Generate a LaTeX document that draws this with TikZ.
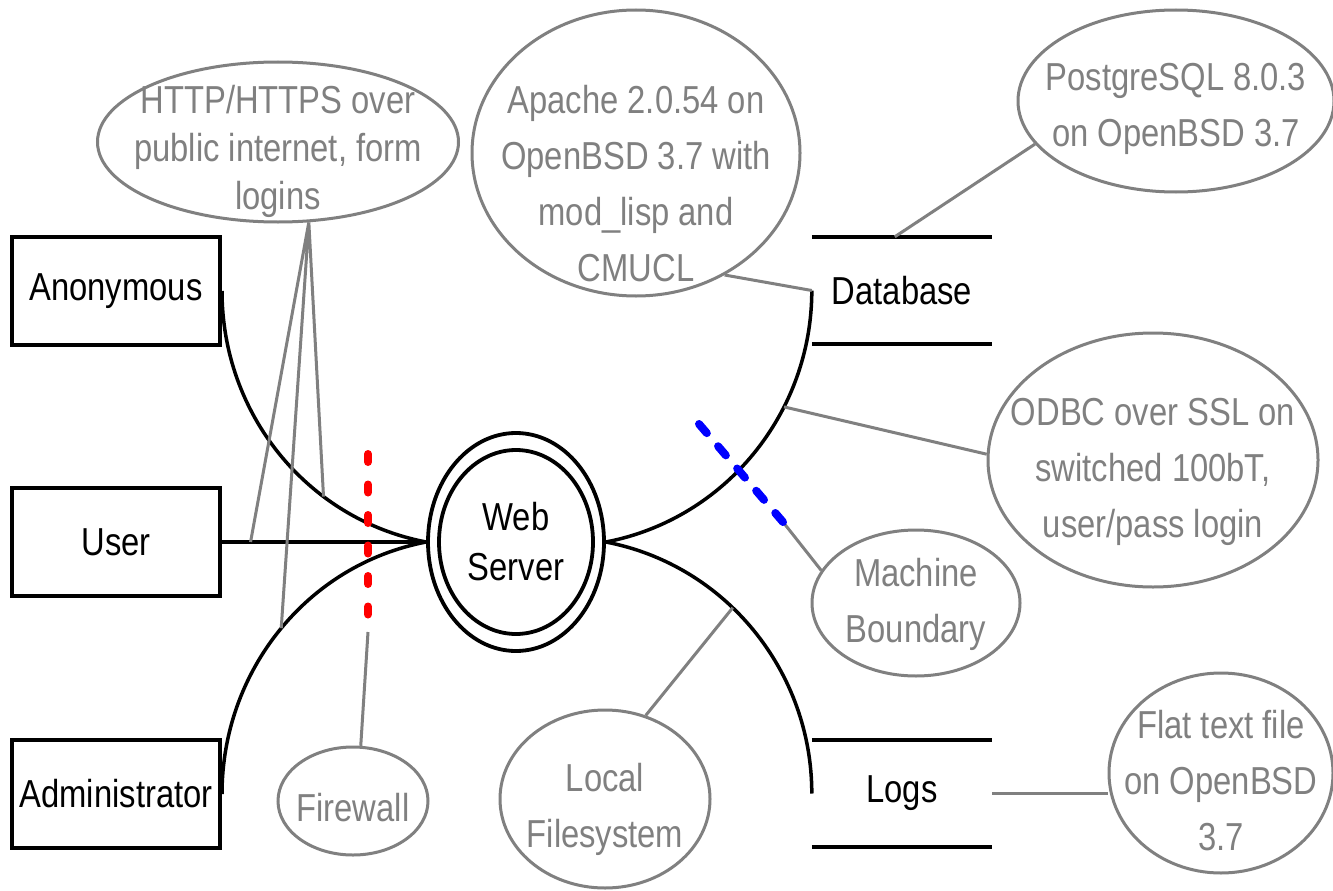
\documentclass[tikz,border=0pt]{standalone}
\usepackage{fontspec}
\setmainfont{Liberation Sans}[FakeStretch=0.84]
\usetikzlibrary{calc,shapes.geometric}
\definecolor{notegray}{HTML}{808080}
\definecolor{fwred}{HTML}{FF0000}
\definecolor{bndblue}{HTML}{0000FF}

\tikzset{
  actor/.style={draw,line width=4pt,minimum width=208pt,minimum height=108pt,inner sep=0pt},
  store/.style={minimum width=180pt,minimum height=107pt,inner sep=0pt},
  server/.style={draw,ellipse,line width=3.8pt,inner sep=0pt},
  note/.style={draw=notegray,ellipse,line width=3pt,inner sep=0pt},
  notetext/.style={text=notegray,align=center,inner sep=0pt},
  flow/.style={line width=3.5pt},
  noteline/.style={notegray,line width=3pt},
  boundary/.style={line width=8pt,line cap=round},
}

\begin{document}
\begin{tikzpicture}[x=1pt,y=-1pt,font=\fontsize{39}{56}\selectfont]
  \path[fill=white,use as bounding box] (0,0) rectangle (1333,891);

  % external entities
  \node[actor] (anon) at (116,291) {Anonymous};
  \node[actor] (user) at (116,542) {User};
  \node[actor] (admin) at (116,794) {Administrator};

  % the process: a double ellipse
  \node[server,minimum width=176pt,minimum height=218pt] (web) at (516,542) {};
  \node[server,minimum width=154pt,minimum height=184pt,align=center,
        font=\fontsize{39}{50}\selectfont] (webin) at (516,542) {Web\\Server};

  % data stores
  \node[store] (db) at (902,290.5) {Database};
  \node[store] (logs) at (902,793.5) {Logs};
  \draw[flow] (db.north west) -- (db.north east) (db.south west) -- (db.south east);
  \draw[flow] (logs.north west) -- (logs.north east) (logs.south west) -- (logs.south east);

  % data flows
  \draw[flow] (user.east) -- (web.west) coordinate[pos=0.14] (userpt);
  \draw[flow] (anon.east) .. controls +(0,122) and +(-120,-23) .. (web.west)
    coordinate[pos=0.68] (anonpt);
  \draw[flow] (admin.east) .. controls +(0,-122) and +(-120,23) .. (web.west)
    coordinate[pos=0.51] (adminpt);
  \draw[flow] (web.east) .. controls +(120,-23) and +(0,122) .. (db.west)
    coordinate[pos=0.66] (dbpt);
  \draw[flow] (web.east) .. controls +(120,23) and +(0,-122) .. (logs.west)
    coordinate[pos=0.41] (logspt);

  % notes
  \node[note,minimum width=361pt,minimum height=160pt] (http) at (278,142) {};
  \node[notetext] (httptxt) at (278,151.5)
    [font=\fontsize{39}{48}\selectfont] {HTTP/HTTPS over\\public internet, form\\logins};
  \node[note,minimum width=328pt,minimum height=286pt] (apache) at (636,153) {};
  \node[notetext] (apachetxt) at (636,184)
    {Apache 2.0.54 on\\OpenBSD 3.7 with\\mod\_lisp and\\CMUCL};
  \node[note,minimum width=316pt,minimum height=182pt] (pg) at (1176,101) {};
  \node[notetext] (pgtxt) at (1176,109) {PostgreSQL 8.0.3\\on OpenBSD 3.7};
  \node[note,minimum width=330pt,minimum height=254pt] (odbc) at (1153,460) {};
  \node[notetext] (odbctxt) at (1153,472)
    {ODBC over SSL on\\switched 100bT,\\user/pass login};
  \node[note,minimum width=208pt,minimum height=146pt] (mach) at (916,603) {};
  \node[notetext] (machtxt) at (916,604) {Machine\\Boundary};
  \node[note,minimum width=210pt,minimum height=178pt] (local) at (605,799) {};
  \node[notetext] (localtxt) at (605,809) {Local\\Filesystem};
  \node[note,minimum width=150pt,minimum height=108pt] (fw) at (353,801) {};
  \node[notetext] (fwtxt) at (353,808) {Firewall};
  \node[note,minimum width=224pt,minimum height=200pt] (flat) at (1221,773) {};
  \node[notetext] (flattxt) at (1221,781) {Flat text file\\on OpenBSD\\3.7};

  % trust boundaries
  \coordinate (fwa) at (368,454);
  \coordinate (fwb) at (368,632);
  \coordinate (bnda) at (699,424);
  \coordinate (bndb) at (783,522);

  % note leaders
  \draw[noteline] (http.-69) -- (userpt) (http.-69) -- (anonpt) (http.-69) -- (adminpt);
  \draw[noteline] (apache.-54) -- (db.west);
  \draw[noteline] (pg.-163) -- ($(db.north west)!0.46!(db.north east)$);
  \draw[noteline] (dbpt) -- (odbc.178);
  \draw[noteline] (bndb) -- (mach.161);
  \draw[noteline] (logspt) -- (local.64);
  \draw[noteline] (fwb) -- (fw.82);
  \draw[noteline] (logs.east) -- (flat.west |- logs.east);

  \draw[boundary,fwred,dash pattern=on 8pt off 22.5pt] (fwa) -- (fwb);
  \draw[boundary,bndblue,dash pattern=on 12pt off 17.3pt] (bnda) -- (bndb);
\end{tikzpicture}
\end{document}
